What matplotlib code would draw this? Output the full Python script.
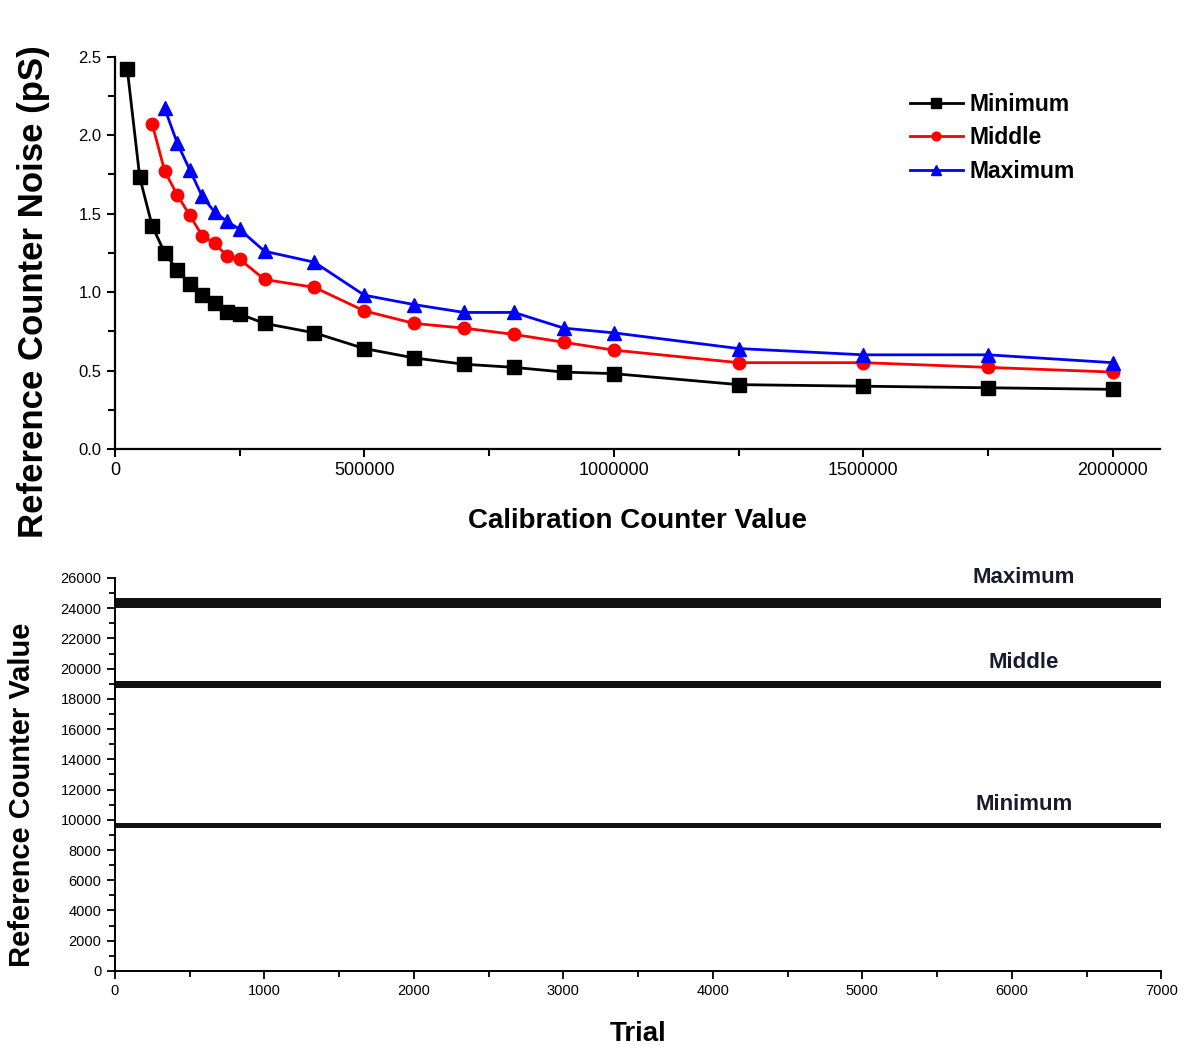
import numpy as np
import matplotlib
matplotlib.use('Agg')
import matplotlib.pyplot as plt
from matplotlib.ticker import MultipleLocator, FormatStrFormatter

plt.rcParams['font.family'] = ['Liberation Sans', 'DejaVu Sans']

# top panel: noise vs calibration counter value
calib_min = [25000, 50000, 75000, 100000, 125000, 150000, 175000, 200000, 225000, 250000,
             300000, 400000, 500000, 600000, 700000, 800000, 900000, 1000000,
             1250000, 1500000, 1750000, 2000000]
noise_min = [2.42, 1.73, 1.42, 1.25, 1.14, 1.05, 0.98, 0.93, 0.87, 0.86,
             0.80, 0.74, 0.64, 0.58, 0.54, 0.52, 0.49, 0.48,
             0.41, 0.40, 0.39, 0.38]

calib_mid = [75000, 100000, 125000, 150000, 175000, 200000, 225000, 250000,
             300000, 400000, 500000, 600000, 700000, 800000, 900000, 1000000,
             1250000, 1500000, 1750000, 2000000]
noise_mid = [2.07, 1.77, 1.62, 1.49, 1.36, 1.31, 1.23, 1.21,
             1.08, 1.03, 0.88, 0.80, 0.77, 0.73, 0.68, 0.63,
             0.55, 0.55, 0.52, 0.49]

calib_max = [100000, 125000, 150000, 175000, 200000, 225000, 250000,
             300000, 400000, 500000, 600000, 700000, 800000, 900000, 1000000,
             1250000, 1500000, 1750000, 2000000]
noise_max = [2.17, 1.95, 1.78, 1.61, 1.51, 1.45, 1.40,
             1.26, 1.19, 0.98, 0.92, 0.87, 0.87, 0.77, 0.74,
             0.64, 0.60, 0.60, 0.55]

# bottom panel: reference counter value per trial (band centre and half width)
trial_range = [0, 7000]
band_names = ['Minimum', 'Middle', 'Maximum']
band_center = [9600, 18950, 24350]
band_halfwidth = [170, 260, 330]
band_label_y = [11000, 20400, 26000]
band_label_x = 6080

fig = plt.figure(figsize=(11.96, 10.49), dpi=100)

# ---- top plot ----
ax1 = fig.add_axes([0.096, 0.572, 0.874, 0.374])
ax1.plot(calib_min, noise_min, color='black', marker='s', markersize=10, lw=2, label='Minimum')
ax1.plot(calib_mid, noise_mid, color='red', marker='o', markersize=9, lw=2, label='Middle')
ax1.plot(calib_max, noise_max, color='blue', marker='^', markersize=10, lw=2, label='Maximum')

ax1.set_xlim(0, 2095000)
ax1.set_ylim(0, 2.5)
ax1.xaxis.set_major_locator(MultipleLocator(500000))
ax1.xaxis.set_minor_locator(MultipleLocator(250000))
ax1.xaxis.set_major_formatter(FormatStrFormatter('%d'))
ax1.yaxis.set_major_locator(MultipleLocator(0.5))
ax1.yaxis.set_minor_locator(MultipleLocator(0.25))
ax1.yaxis.set_major_formatter(FormatStrFormatter('%.1f'))
ax1.tick_params(which='both', direction='out', width=1.5, labelsize=13)
ax1.tick_params(axis='y', labelsize=12)
ax1.tick_params(which='major', length=6)
ax1.tick_params(which='minor', length=5)
for s in ['top', 'right']:
    ax1.spines[s].set_visible(False)
for s in ['left', 'bottom']:
    ax1.spines[s].set_linewidth(1.6)
ax1.set_xlabel('Calibration Counter Value', fontsize=20, fontweight='bold')
ax1.xaxis.set_label_coords(0.5, -0.15)
ax1.set_ylabel('Reference Counter Noise (pS)', fontsize=25, fontweight='bold')
ax1.yaxis.set_label_coords(-0.062, 0.40)
leg = ax1.legend(loc='upper right', bbox_to_anchor=(0.938, 0.96), frameon=False,
                 prop={'weight': 'bold', 'size': 16.5}, markerscale=0.7,
                 handlelength=2.3, labelspacing=0.45, handletextpad=0.3)

# ---- bottom plot ----
ax2 = fig.add_axes([0.096, 0.0744, 0.875, 0.3746])
for name, c, hw in zip(band_names, band_center, band_halfwidth):
    ax2.fill_between(trial_range, c - hw, c + hw, facecolor='#111111', linewidth=0)
for name, y in zip(band_names, band_label_y):
    ax2.text(band_label_x, y, name, ha='center', va='center',
             fontsize=16, fontweight='bold', color='#1a1a2e')

ax2.set_xlim(0, 7000)
ax2.set_ylim(0, 26000)
ax2.xaxis.set_major_locator(MultipleLocator(1000))
ax2.xaxis.set_minor_locator(MultipleLocator(500))
ax2.yaxis.set_major_locator(MultipleLocator(2000))
ax2.yaxis.set_minor_locator(MultipleLocator(1000))
ax2.tick_params(which='both', direction='out', width=1.3, labelsize=10.5)
ax2.tick_params(which='major', length=6)
ax2.tick_params(which='minor', length=4)
for s in ['top', 'right']:
    ax2.spines[s].set_visible(False)
for s in ['left', 'bottom']:
    ax2.spines[s].set_linewidth(1.4)
ax2.set_xlabel('Trial', fontsize=20, fontweight='bold')
ax2.xaxis.set_label_coords(0.5, -0.127)
ax2.set_ylabel('Reference Counter Value', fontsize=21, fontweight='bold')
ax2.yaxis.set_label_coords(-0.075, 0.448)

fig.savefig('out.png', dpi=100)
